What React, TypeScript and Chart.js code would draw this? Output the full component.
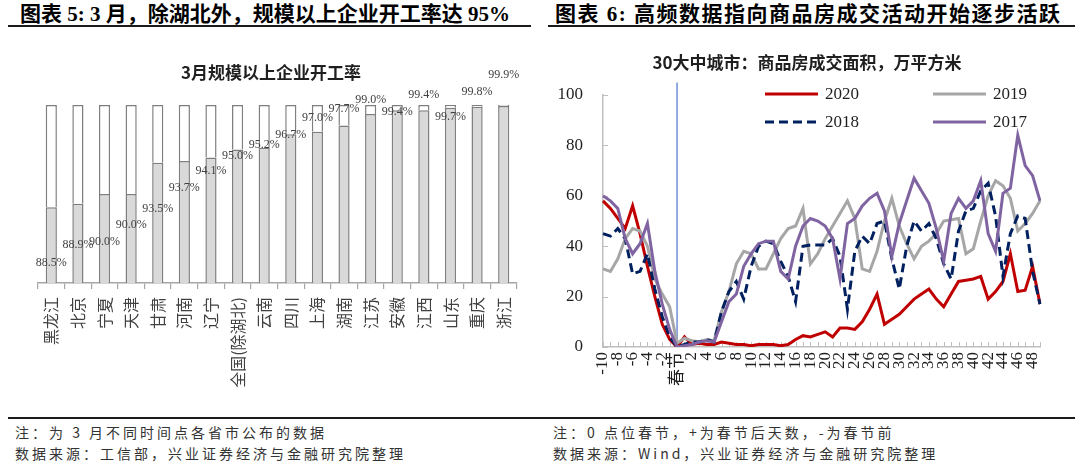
import React, { useEffect, useRef } from 'react';
import { Chart, registerables } from 'chart.js';

Chart.register(...registerables);

const SERIF = '"Liberation Serif", "Noto Sans CJK SC", serif';
const SANS_CJK = '"Noto Sans CJK SC", "Liberation Serif", sans-serif';

// 3月规模以上企业开工率 (%)
const provinces = ['黑龙江', '北京', '宁夏', '天津', '甘肃', '河南', '辽宁', '全国(除湖北)', '云南', '四川', '上海', '湖南', '江苏', '安徽', '江西', '山东', '重庆', '浙江'];
const startRates = [88.5, 88.9, 90.0, 90.0, 93.5, 93.7, 94.1, 95.0, 95.2, 96.7, 97.0, 97.7, 99.0, 99.4, 99.4, 99.7, 99.8, 99.9];
// vertical nudge (px) of each value label from the top of its filled bar
const rateLabelNudge = [55, 41, 48, 31, 46, 27, 13, 6, -3, 0, -14, -17, -14, 2, -15, 9, -15, -31];

// 30大中城市商品房成交面积 (万平方米), days relative to the Spring Festival
const dayOffsets = [
  -10, -9, -8, -7, -6, -5, -4, -3, -2, -1,
  0, 1, 2, 3, 4, 5, 6, 7, 8, 9,
  10, 11, 12, 13, 14, 15, 16, 17, 18, 19,
  20, 21, 22, 23, 24, 25, 26, 27, 28, 29,
  30, 31, 32, 33, 34, 35, 36, 37, 38, 39,
  40, 41, 42, 43, 44, 45, 46, 47, 48, 49,
];
const area2020 = [
  58, 55, 51, 47, 56, 45, 32, 20, 9, 3,
  0, 4, 1, 1.5, 1, 1, 2, 1.5, 1, 1,
  0.5, 1, 1, 1, 0.5, 1, 3, 4.5, 4, 5,
  6, 4, 7.5, 7.5, 7, 10, 15, 21, 9, 11,
  13, 16, 19, 21, 23, 19, 16, 21, 26, 26.5,
  27, 28, 19, 22, 26, 37, 22, 22.5, 32, 17,
];
const area2019 = [
  31, 30, 35, 43, 47, 46, 40, 27, 21, 16,
  1.5, 3.5, 2.5, 2, 3, 2.5, 14, 22, 33, 38,
  37, 31, 31, 37, 43, 47, 48, 55, 33, 37,
  43, 48, 53, 58, 51, 31, 30, 38, 50, 59,
  48, 41, 35, 40, 42, 45, 50, 50.5, 51, 37,
  39, 50, 60, 66, 64, 59, 46, 49, 53, 58,
];
const area2018 = [
  45, 44, 47, 43, 29, 30, 37, 23, 12, 4,
  0, 1, 2, 2, 3, 2, 14, 22, 26, 19,
  32, 40, 42, 41, 34, 28, 18, 40, 40.5, 40.5,
  40.5, 43, 36, 15, 38, 44, 41, 49, 50, 35,
  23, 40, 50, 46, 49, 43, 33, 27, 46, 54,
  55, 62, 65, 52, 28, 45, 52, 51, 30, 17,
];
const area2017 = [
  60, 58, 55, 43, 37, 41, 49, 30, 17, 7,
  0, 0.5, 1, 2, 2.5, 2, 10, 18, 21, 32,
  37, 41, 42, 42, 30, 27, 40, 48, 51, 50,
  48, 43, 27, 49, 51, 56, 59, 61, 54, 36,
  49, 58, 67, 62, 57, 47, 34, 53, 59, 55,
  58, 66, 45, 38, 61, 63, 84, 72, 68, 58,
];
const yTickValues = [0, 20, 40, 60, 80, 100];

// chart caption drawn above the plot, centred on the plot with a small shift
const captionPlugin = {
  id: 'caption',
  afterDraw(chart: any, _args: any, opts: any) {
    const { ctx, chartArea } = chart;
    ctx.save();
    ctx.font = `bold 17px ${SANS_CJK}`;
    ctx.fillStyle = '#1f1f1f';
    ctx.textAlign = 'center';
    ctx.textBaseline = 'middle';
    ctx.fillText(opts.text, (chartArea.left + chartArea.right) / 2 + opts.dx, chartArea.top - opts.rise);
    ctx.restore();
  },
};

const rateLabelPlugin = {
  id: 'rateLabels',
  afterDatasetsDraw(chart: any) {
    const { ctx } = chart;
    const meta = chart.getDatasetMeta(0);
    const y = chart.scales.y;
    ctx.save();
    ctx.font = `12px ${SERIF}`;
    ctx.fillStyle = '#404040';
    ctx.textAlign = 'center';
    ctx.textBaseline = 'middle';
    startRates.forEach((v, i) => {
      const bar = meta.data[i];
      ctx.fillText(`${v.toFixed(1)}%`, bar.x, y.getPixelForValue(v) + rateLabelNudge[i]);
    });
    ctx.restore();
  },
};

const innerTickPlugin = {
  id: 'innerTicks',
  beforeDatasetsDraw(chart: any) {
    const { ctx, chartArea, scales } = chart;
    const { x, y } = scales;
    ctx.save();
    ctx.strokeStyle = '#bfbfbf';
    ctx.lineWidth = 1;
    ctx.beginPath();
    x.ticks.forEach((_: any, i: number) => {
      const px = Math.round(x.getPixelForTick(i)) + 0.5;
      ctx.moveTo(px, chartArea.bottom);
      ctx.lineTo(px, chartArea.bottom - 5);
    });
    y.ticks.forEach((_: any, i: number) => {
      const py = Math.round(y.getPixelForTick(i)) + 0.5;
      ctx.moveTo(chartArea.left, py);
      ctx.lineTo(chartArea.left + 5, py);
    });
    ctx.stroke();
    ctx.restore();
  },
};

const springFestivalPlugin = {
  id: 'springFestival',
  beforeDatasetsDraw(chart: any) {
    const { ctx, chartArea, scales } = chart;
    const px = scales.x.getPixelForValue(dayOffsets.indexOf(0));
    ctx.save();
    ctx.strokeStyle = '#6f8fd8';
    ctx.lineWidth = 1.5;
    ctx.beginPath();
    ctx.moveTo(px, scales.y.getPixelForValue(105));
    ctx.lineTo(px, chartArea.bottom);
    ctx.stroke();
    ctx.restore();
  },
};

// two-column key drawn inside the plot, upper right
const seriesKeyPlugin = {
  id: 'seriesKey',
  afterDatasetsDraw(chart: any) {
    const { ctx, chartArea } = chart;
    const cols = [162, 330];
    const rows = [-1, 27];
    chart.data.datasets.forEach((ds: any, i: number) => {
      const x0 = chartArea.left + cols[i % 2];
      const y0 = chartArea.top + rows[Math.floor(i / 2)];
      ctx.save();
      ctx.strokeStyle = ds.borderColor;
      ctx.lineWidth = 3;
      ctx.setLineDash(ds.borderDash || []);
      ctx.beginPath();
      ctx.moveTo(x0, y0);
      ctx.lineTo(x0 + 53, y0);
      ctx.stroke();
      ctx.setLineDash([]);
      ctx.fillStyle = '#1f1f1f';
      ctx.font = `17px ${SERIF}`;
      ctx.textAlign = 'left';
      ctx.textBaseline = 'middle';
      ctx.fillText(ds.label, x0 + 60, y0 + 1);
      ctx.restore();
    });
  },
};

function StartRateChart() {
  const ref = useRef<HTMLCanvasElement>(null);
  useEffect(() => {
    const chart = new Chart(ref.current!, {
      type: 'bar',
      data: {
        labels: provinces,
        datasets: [
          {
            label: '开工率',
            data: startRates,
            backgroundColor: '#d9d9d9',
            borderColor: '#7f7f7f',
            borderWidth: 1.5,
            barPercentage: 0.42,
            categoryPercentage: 1,
          },
          {
            label: '未开工',
            data: startRates.map((v) => Math.round((100 - v) * 10) / 10),
            backgroundColor: '#ffffff',
            borderColor: '#7f7f7f',
            borderWidth: 1.5,
            barPercentage: 0.42,
            categoryPercentage: 1,
          },
        ],
      },
      options: {
        animation: false,
        responsive: false,
        layout: { padding: { left: 38, right: 23, top: 75, bottom: 0 } },
        plugins: {
          legend: { display: false },
          tooltip: { enabled: false },
          caption: { text: '3月规模以上企业开工率', dx: -6.5, rise: 32 },
        },
        scales: {
          x: {
            stacked: true,
            grid: { display: true, drawOnChartArea: false, drawTicks: true, tickLength: 6, color: '#a6a6a6', lineWidth: 1.2, offset: true },
            border: { color: '#a6a6a6', width: 1.5 },
            ticks: {
              autoSkip: false,
              minRotation: 90,
              maxRotation: 90,
              padding: 8,
              color: '#404040',
              font: { family: SANS_CJK, size: 16 },
            },
            afterFit: (s: any) => { s.height = 127; },
          },
          y: {
            stacked: true,
            min: 80,
            max: 100,
            display: false,
          },
        },
      },
      plugins: [rateLabelPlugin, captionPlugin],
    } as any);
    return () => chart.destroy();
  }, []);
  return <canvas ref={ref} width={540} height={380} style={{ position: 'absolute', left: 0, top: 30, width: 540, height: 380 }} />;
}

function HousingSalesChart() {
  const ref = useRef<HTMLCanvasElement>(null);
  useEffect(() => {
    const chart = new Chart(ref.current!, {
      type: 'line',
      data: {
        labels: dayOffsets,
        datasets: [
          { label: '2020', data: area2020, borderColor: '#c00000', borderWidth: 3, pointRadius: 0, order: 3 },
          { label: '2019', data: area2019, borderColor: '#a6a6a6', borderWidth: 3, pointRadius: 0, order: 2 },
          { label: '2018', data: area2018, borderColor: '#002060', borderWidth: 3, borderDash: [9, 5], pointRadius: 0, order: 1 },
          { label: '2017', data: area2017, borderColor: '#8064a2', borderWidth: 3, pointRadius: 0, order: 0 },
        ],
      },
      options: {
        animation: false,
        responsive: false,
        layout: { padding: { left: 0, right: 40, top: 65, bottom: 0 } },
        plugins: {
          legend: { display: false },
          tooltip: { enabled: false },
          caption: { text: '30大中城市：商品房成交面积，万平方米', dx: -14.5, rise: 32 },
        },
        scales: {
          x: {
            offset: false,
            grid: { display: false, drawTicks: false },
            border: { color: '#bfbfbf', width: 1.5 },
            ticks: {
              autoSkip: false,
              minRotation: 90,
              maxRotation: 90,
              padding: 5,
              color: '#1f1f1f',
              font: { family: SERIF, size: 17 },
              callback: (_v: any, i: number) => {
                const d = dayOffsets[i];
                if (d % 2 !== 0) return '';
                return d === 0 ? '春节' : String(d);
              },
            },
            afterFit: (s: any) => { s.height = 63; },
          },
          y: {
            min: yTickValues[0],
            max: yTickValues[yTickValues.length - 1],
            grid: { display: false, drawTicks: false },
            border: { color: '#bfbfbf', width: 1.5 },
            ticks: {
              stepSize: yTickValues[1] - yTickValues[0],
              padding: 20,
              color: '#1f1f1f',
              font: { family: SERIF, size: 17 },
            },
            afterFit: (s: any) => { s.width = 63; },
          },
        },
      },
      plugins: [springFestivalPlugin, innerTickPlugin, seriesKeyPlugin, captionPlugin],
    } as any);
    return () => chart.destroy();
  }, []);
  return <canvas ref={ref} width={540} height={380} style={{ position: 'absolute', left: 540, top: 30, width: 540, height: 380 }} />;
}

const noteStyle: React.CSSProperties = {
  position: 'absolute',
  font: `14px ${SANS_CJK}`,
  letterSpacing: '3px',
  color: '#333',
  whiteSpace: 'nowrap',
  lineHeight: '20px',
};

export default function App() {
  return (
    <div style={{ position: 'fixed', left: 0, top: 0, width: 1080, height: 475, background: '#fff', overflow: 'hidden' }}>
      <div style={{ position: 'absolute', left: 20, top: 2, font: `bold 21px ${SERIF}`, lineHeight: '24px', whiteSpace: 'nowrap', color: '#000' }}>
        图表 5: 3 月，除湖北外，规模以上企业开工率达 95%
      </div>
      <div style={{ position: 'absolute', left: 555, top: 2, font: `bold 21px ${SERIF}`, letterSpacing: '1.5px', lineHeight: '24px', whiteSpace: 'nowrap', color: '#000' }}>
        图表 6: 高频数据指向商品房成交活动开始逐步活跃
      </div>
      <div style={{ position: 'absolute', left: 8, top: 25, width: 523, height: 2, background: '#1a1a1a' }} />
      <div style={{ position: 'absolute', left: 548, top: 25, width: 527, height: 2, background: '#1a1a1a' }} />
      <StartRateChart />
      <HousingSalesChart />
      <div style={{ position: 'absolute', left: 8, top: 417, width: 1067, height: 2, background: '#1a1a1a' }} />
      <div style={{ ...noteStyle, left: 15, top: 422 }}>注：为 3 月不同时间点各省市公布的数据</div>
      <div style={{ ...noteStyle, left: 15, top: 443 }}>数据来源：工信部，兴业证券经济与金融研究院整理</div>
      <div style={{ ...noteStyle, left: 553, top: 422 }}>注：0 点位春节，+为春节后天数，-为春节前</div>
      <div style={{ ...noteStyle, left: 553, top: 443 }}>数据来源：Wind，兴业证券经济与金融研究院整理</div>
    </div>
  );
}
